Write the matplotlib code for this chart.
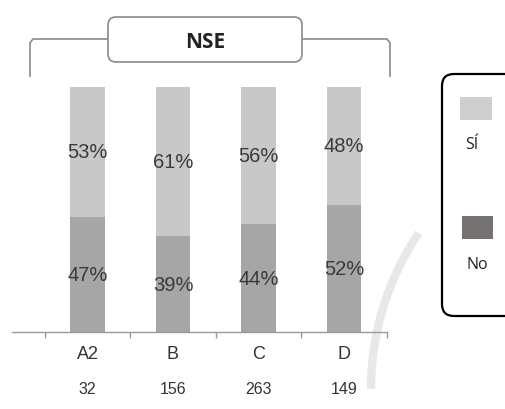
import matplotlib
matplotlib.use("Agg")
import matplotlib.pyplot as plt
import matplotlib.transforms as mtransforms
from matplotlib.patches import FancyBboxPatch, Rectangle, Arc

categories = ["A2", "B", "C", "D"]
counts = [32, 156, 263, 149]
no_pct = [47, 39, 44, 52]
si_pct = [53, 61, 56, 48]
legend_labels = ["SÍ", "No"]
header = "NSE"

bar_si = "#c8c8c8"
bar_no = "#a6a6a6"
key_si = "#d0cece"
key_no = "#767171"
txt = "#3a3a3a"

W, H = 505, 410
fig = plt.figure(figsize=(W / 100, H / 100), dpi=100)

# pixel canvas for the frame pieces (y grows downward)
deco = fig.add_axes([0, 0, 1, 1], zorder=0)
deco.set_xlim(0, W)
deco.set_ylim(H, 0)
deco.axis("off")

# faint ring in the background
deco.add_patch(Arc((650, 390), 558, 558, theta1=180, theta2=214,
                   color="#e8e8e8", lw=6))

# bracket with the header box
brk = dict(color="#8a8a8a", lw=1.2, solid_capstyle="butt")
deco.plot([30, 30, 33, 108], [78, 44, 40, 40], **brk)
deco.plot([302, 387, 390, 390], [40, 40, 44, 78], **brk)
deco.add_patch(FancyBboxPatch((108, 18), 194, 45,
                              boxstyle="round,pad=0,rounding_size=8",
                              fc="white", ec="#8a8a8a", lw=1.2))
deco.text(205, 42, header, ha="center", va="center", fontsize=15,
          fontweight="bold", family="Open Sans", color="#222222")

# legend box
deco.add_patch(FancyBboxPatch((442, 75), 90, 242,
                              boxstyle="round,pad=0,rounding_size=12",
                              fc="none", ec="black", lw=1.6))
deco.add_patch(Rectangle((460, 98), 32, 23, fc=key_si, ec="none"))
deco.text(465, 145, legend_labels[0], ha="left", va="center",
          fontsize=11.5, family="Open Sans", color="#222222")
deco.add_patch(Rectangle((462, 217), 31, 23, fc=key_no, ec="none"))
deco.text(466, 265, legend_labels[1], ha="left", va="center",
          fontsize=11.5, family="Open Sans", color="#222222")

# stacked bars
ax = fig.add_axes([12 / W, 77 / H, 375 / W, 245 / H], zorder=1)
ax.patch.set_alpha(0)
x = list(range(len(categories)))
ax.bar(x, no_pct, width=0.4, color=bar_no)
ax.bar(x, si_pct, width=0.4, bottom=no_pct, color=bar_si)

for i in x:
    ax.text(i, no_pct[i] / 2, f"{no_pct[i]}%", ha="center", va="center",
            fontsize=14.5, family="Liberation Sans", color=txt)
    ax.text(i, no_pct[i] + si_pct[i] / 2, f"{si_pct[i]}%", ha="center",
            va="center", fontsize=14.5, family="Liberation Sans", color=txt)

trans = mtransforms.blended_transform_factory(ax.transData, ax.transAxes)
for i, (cat, n) in enumerate(zip(categories, counts)):
    ax.text(i, -22 / 245, cat, transform=trans, ha="center", va="center",
            fontsize=13, family="Liberation Sans", color="#333333")
    ax.text(i, -57 / 245, str(n), transform=trans, ha="center", va="center",
            fontsize=11.5, family="Liberation Sans", color="#333333")

ax.set_xlim(-0.883, 3.503)
ax.set_ylim(0, 100)
for s in ["top", "left", "right"]:
    ax.spines[s].set_visible(False)
ax.spines["bottom"].set_color("#999999")
ax.spines["bottom"].set_linewidth(1)
ax.set_yticks([])
ax.set_xticks([])
ax.set_xticks([-0.5, 0.5, 1.5, 2.5, 3.5], minor=True)
ax.tick_params(axis="x", which="minor", length=4, width=1, color="#999999")

fig.savefig("out.png", dpi=100)
